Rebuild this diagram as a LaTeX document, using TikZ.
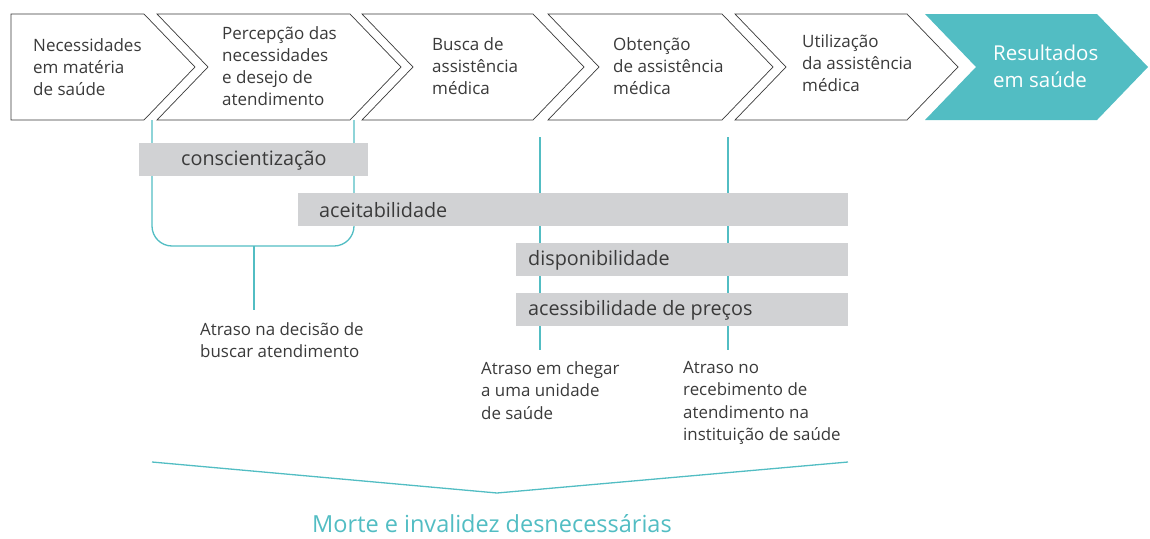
\documentclass[tikz,border=0pt]{standalone}
\usepackage{fontspec}
\setmainfont{Open Sans}
\definecolor{tealMain}{HTML}{52BDC3}
\definecolor{barGrey}{HTML}{D1D2D4}
\definecolor{textGrey}{HTML}{3A3A3A}
\begin{document}
\begin{tikzpicture}[x=1pt, y=-1pt,
  chevronStyle/.style={draw=textGrey, line width=0.7pt, fill=white, line join=miter},
  stepText/.style={anchor=west, align=left, text=textGrey, inner sep=0pt, font=\fontsize{17}{22}\selectfont},
  barStyle/.style={fill=barGrey, draw=none},
  barText/.style={anchor=west, text=textGrey, inner sep=0pt, font=\fontsize{19.8}{23}\selectfont},
  delayText/.style={anchor=north west, align=left, text=textGrey, inner sep=0pt, font=\fontsize{16.9}{22.5}\selectfont},
  linkStyle/.style={draw=tealMain, line width=1.3pt}
]
\useasboundingbox (0,0) rectangle (1150,538);

% steps of the pathway
\draw [chevronStyle] (11,14) -- (144,14) -- (195,67) -- (144,120) -- (11,120) -- cycle;
\draw [chevronStyle] (157,14) -- (350,14) -- (401,67) -- (350,120) -- (157,120) -- (208,67) -- cycle;
\draw [chevronStyle] (362,14) -- (533,14) -- (584,67) -- (533,120) -- (362,120) -- (413,67) -- cycle;
\draw [chevronStyle] (548,14) -- (722,14) -- (773,67) -- (722,120) -- (548,120) -- (599,67) -- cycle;
\draw [chevronStyle] (735,14) -- (907,14) -- (958,67) -- (907,120) -- (735,120) -- (786,67) -- cycle;
\fill [tealMain] (925,14) -- (1097,14) -- (1148,67) -- (1097,120) -- (925,120) -- (976,67) -- cycle;

\node [stepText] (needs)   at (33,67)    {Necessidades\\em matéria\\de saúde};
\node [stepText] (percep)  at (222,66.5) {Percepção das\\necessidades\\e desejo de\\atendimento};
\node [stepText] (seek)    at (432,66.5) {Busca de\\assistência\\médica};
\node [stepText] (reach)   at (613,66)   {Obtenção\\de assistência\\médica};
\node [stepText] (use)     at (802,63.5) {Utilização\\da assistência\\médica};
\node [stepText, text=white, font=\fontsize{20.5}{27}\selectfont] (outcome) at (993,66.5) {Resultados\\em saúde};

% delays
\coordinate (bracketL) at (152,120);
\coordinate (bracketR) at (354,120);
\coordinate (bracketM) at (254,246);
\coordinate (stemEnd)  at (254,310);
\coordinate (lineAtop) at (540,137);
\coordinate (lineAbot) at (540,350);
\coordinate (lineBtop) at (728,137);
\coordinate (lineBbot) at (728,350);
\draw [linkStyle, rounded corners=20pt] (bracketL) |- (bracketM) -| (bracketR);
\draw [linkStyle] (bracketM) -- (stemEnd);
\draw [linkStyle] (lineAtop) -- (lineAbot);
\draw [linkStyle] (lineBtop) -- (lineBbot);

% barriers
\draw [barStyle] (139,143) rectangle (368,176);
\node [barText] (aware) at (181,160.5) {conscientização};
\draw [barStyle] (298,193) rectangle (848,226);
\node [barText] (accept) at (319,210.5) {aceitabilidade};
\draw [barStyle] (516,243) rectangle (848,276);
\node [barText] (avail) at (528,260.5) {disponibilidade};
\draw [barStyle] (516,293) rectangle (848,326);
\node [barText] (afford) at (528,310.5) {acessibilidade de preços};

\node [delayText] (delayOne)   at (200,322) {Atraso na decisão de\\buscar atendimento};
\node [delayText] (delayTwo)   at (481,361) {Atraso em chegar\\a uma unidade\\de saúde};
\node [delayText] (delayThree) at (683,361) {Atraso no\\recebimento de\\atendimento na\\instituição de saúde};

% outcome
\coordinate (vLeft)  at (152,462);
\coordinate (vTip)   at (497,493);
\coordinate (vRight) at (848,462);
\draw [linkStyle] (vLeft) -- (vTip) -- (vRight);
\node [text=tealMain, inner sep=0pt, font=\fontsize{23.5}{28}\selectfont] (death) at (492,524) {Morte e invalidez desnecessárias};
\end{tikzpicture}
\end{document}
